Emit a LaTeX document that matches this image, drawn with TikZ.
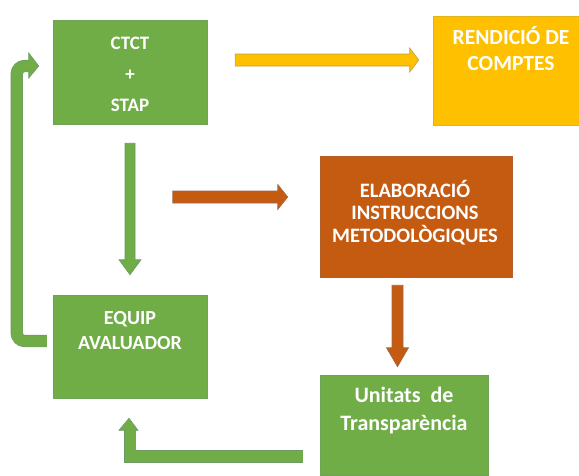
\documentclass[tikz,border=0pt]{standalone}
\usepackage{fontspec}
\setmainfont{Carlito}
\usetikzlibrary{calc}
\definecolor{cgreen}{HTML}{70AD47}
\definecolor{cyellow}{HTML}{FFC000}
\definecolor{corange}{HTML}{C55A11}
\definecolor{cline}{HTML}{6A7F90}
% #1 style, #2 tail, #3 tip, #4 shaft half width, #5 head half width, #6 head length
\newcommand\mkarrow[6]{%
  \coordinate (q) at ($(#3)!#6!(#2)$);
  \draw[#1] ($(#2)!#4!90:(#3)$) -- ($(q)!#4!90:(#3)$) -- ($(q)!#5!90:(#3)$) -- (#3)
    -- ($(q)!#5!-90:(#3)$) -- ($(q)!#4!-90:(#3)$) -- ($(#2)!#4!-90:(#3)$) -- cycle;}
\begin{document}
\begin{tikzpicture}[x=1pt,y=-1pt,
  box/.style={rectangle, inner sep=0pt, draw=#1!80!cline, line width=0.5pt, fill=#1},
  lbl/.style={text=white, align=center, inner sep=0pt},
  aw/.style={fill=#1, draw=#1!55!cline, line width=0.6pt, line join=miter},
  shaftout/.style={draw=#1!55!cline, line width=12.2pt, line join=miter},
  shaftin/.style={draw=#1, line width=11pt, line join=miter}]
\useasboundingbox (0,0) rectangle (579,475);
\fill[white] (0,0) rectangle (579,475);

% boxes
\node[box=cgreen, minimum width=154pt, minimum height=104pt] (ctct) at (130,72) {};
\node[box=cyellow, minimum width=146pt, minimum height=109pt] (rend) at (506,70.5) {};
\node[box=corange, minimum width=192pt, minimum height=121pt] (elab) at (416,216.5) {};
\node[box=cgreen, minimum width=154pt, minimum height=103pt] (equip) at (130,346.5) {};
\node[box=cgreen, minimum width=168pt, minimum height=100pt] (unit) at (404,425) {};

% labels
\node[lbl, font=\bfseries\fontsize{19}{31}\selectfont] (ctctt) at ($(ctct.center)+(0,2.5)$) {CTCT\\+\\STAP};
\node[lbl, font=\bfseries\fontsize{21.5}{26}\selectfont] (rendt) at ($(rend.north)+(5,33)$) {RENDICIÓ DE\\COMPTES};
\node[lbl, font=\bfseries\fontsize{20.5}{22.5}\selectfont] (elabt) at ($(elab.center)+(-1,-4)$) {ELABORACIÓ\\INSTRUCCIONS\\METODOLÒGIQUES};
\node[lbl, font=\bfseries\fontsize{20}{25}\selectfont] (equipt) at ($(equip.north)+(0,35.5)$) {EQUIP\\AVALUADOR};
\node[lbl, font=\bfseries\fontsize{22}{28}\selectfont] (unitt) at ($(unit.north)+(0,36)$) {Unitats \ de\\Transparència};

% arrow end points
\coordinate (ya1) at ($(ctct.east)+(28,-12)$);
\coordinate (ya2) at ($(rend.west)+(-14,-10.5)$);
\coordinate (gd1) at ($(ctct.south)+(0,19)$);
\coordinate (gd2) at ($(equip.north)+(0,-20)$);
\coordinate (or1) at ($(elab.west)+(-147,-19.5)$);
\coordinate (or2) at ($(elab.west)+(-32,-19.5)$);
\coordinate (od1) at ($(elab.south)+(-18.5,8)$);
\coordinate (od2) at ($(unit.north)+(-6.5,-8)$);
\coordinate (l1) at ($(equip.west)+(-6,-5.5)$);
\coordinate (l2) at ($(ctct.west)+(-14,-6)$);
\coordinate (b1) at ($(unit.west)+(-17,31.5)$);
\coordinate (b2) at ($(equip.south)+(-1,20)$);

% straight arrows
\mkarrow{aw=cyellow}{ya1}{ya2}{6pt}{12pt}{9pt}
\mkarrow{aw=cgreen}{gd1}{gd2}{5pt}{11pt}{15pt}
\mkarrow{aw=corange}{or1}{or2}{6pt}{12.5pt}{10pt}
\mkarrow{aw=corange}{od1}{od2}{5.5pt}{11pt}{19pt}

% loop arrow: EQUIP -> CTCT
\draw[shaftout=cgreen, rounded corners=8pt] (l1) -- ($(l1)+(-30,0)$) |- ($(l2)+(-10,0)$);
\draw[aw=cgreen] ($(l2)+(-10,-13)$) -- (l2) -- ($(l2)+(-10,12)$) -- cycle;
\draw[shaftin=cgreen, rounded corners=8pt] (l1) -- ($(l1)+(-30,0)$) |- ($(l2)+(-9.5,0)$);

% bottom arrow: Unitats -> EQUIP
\draw[shaftout=cgreen] (b1) -| ($(b2)+(1,12)$);
\draw[aw=cgreen] ($(b2)+(-10,12)$) -- (b2) -- ($(b2)+(9,12)$) -- cycle;
\draw[shaftin=cgreen] (b1) -| ($(b2)+(1,11.5)$);
\end{tikzpicture}
\end{document}
